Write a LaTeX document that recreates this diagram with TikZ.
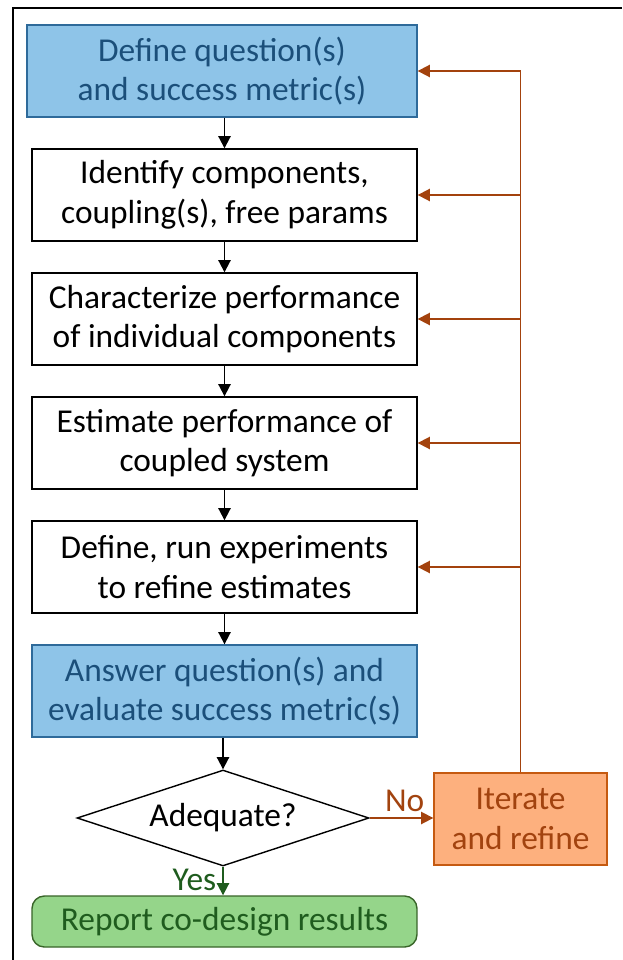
\documentclass[tikz,border=0pt]{standalone}
\usepackage{fontspec}
\setmainfont{Carlito}
\usetikzlibrary{shapes.geometric, arrows.meta}
\definecolor{qFill}{HTML}{8EC4E8}
\definecolor{qLine}{HTML}{2E6A9A}
\definecolor{qText}{HTML}{1B4F7A}
\definecolor{itFill}{HTML}{FDB07E}
\definecolor{itLine}{HTML}{C55A11}
\definecolor{itText}{HTML}{A2430F}
\definecolor{loopCol}{HTML}{A3420D}
\definecolor{okFill}{HTML}{95D58A}
\definecolor{okLine}{HTML}{386428}
\definecolor{okText}{HTML}{1F5C1E}

\begin{document}
\begin{tikzpicture}[x=0.02cm, y=-0.02cm,
    every node/.style={font=\fontsize{19}{22.5}\selectfont, align=center},
    stage/.style={draw, line width=0.8pt, minimum width=7.7cm, minimum height=1.84cm, inner sep=0pt},
    goal/.style={stage, fill=qFill, draw=qLine, text=qText},
    flow/.style={-{Triangle[length=7pt, width=7pt]}, line width=1.1pt},
    back/.style={flow, draw=loopCol, line width=1pt}]
  \useasboundingbox (0,0) rectangle (622,960);
  \draw[line width=0.8pt] (13,960) -- (13,8) -- (622,8);

  \node[goal, minimum width=7.8cm] (question) at (222,71) {Define question(s)\\and success metric(s)};
  \node[stage] (parts) at (224.5,195) {Identify components,\\coupling(s), free params};
  \node[stage] (single) at (224.5,319) {Characterize performance\\of individual components};
  \node[stage] (coupled) at (224.5,443) {Estimate performance of\\coupled system};
  \node[stage] (runs) at (224.5,567) {Define, run experiments\\to refine estimates};
  \node[goal] (answer) at (224.5,691) {Answer question(s) and\\evaluate success metric(s)};
  \node[draw, line width=0.8pt, diamond, aspect=3.04, minimum width=5.84cm, minimum height=1.92cm, inner sep=0pt] (check) at (223,818) {Adequate?};
  \node[draw=okLine, fill=okFill, text=okText, line width=0.8pt, rounded corners=7pt,
        minimum width=7.7cm, minimum height=1.02cm, inner sep=0pt] (report) at (224.5,921.5) {Report co-design results};
  \node[draw=itLine, fill=itFill, text=itText, line width=0.8pt,
        minimum width=3.46cm, minimum height=1.84cm, inner sep=0pt] (iterate) at (520.5,819) {Iterate\\and refine};

  % main flow
  \draw[flow] (parts.north |- question.south) -- (parts.north);
  \foreach \a/\b in {parts/single, single/coupled, coupled/runs, runs/answer}
    \draw[flow] (\a) -- (\b);
  \draw[flow] (answer.south -| check.north) -- (check.north);
  \draw[flow, draw=okText] (check.south) -- node[left, text=okText, pos=0.45] {Yes} (report.north -| check.south);
  \draw[back] (check.east) -- node[above, text=itText, pos=0.55] {No} (check.east -| iterate.west);

  % feedback loop
  \coordinate (loop) at (iterate.north |- question.east);
  \draw[loopCol, line width=1pt] (iterate.north) -- (loop);
  \foreach \b in {question, parts, single, coupled, runs}
    \draw[back] (\b.east -| loop) -- (\b.east);
\end{tikzpicture}
\end{document}
